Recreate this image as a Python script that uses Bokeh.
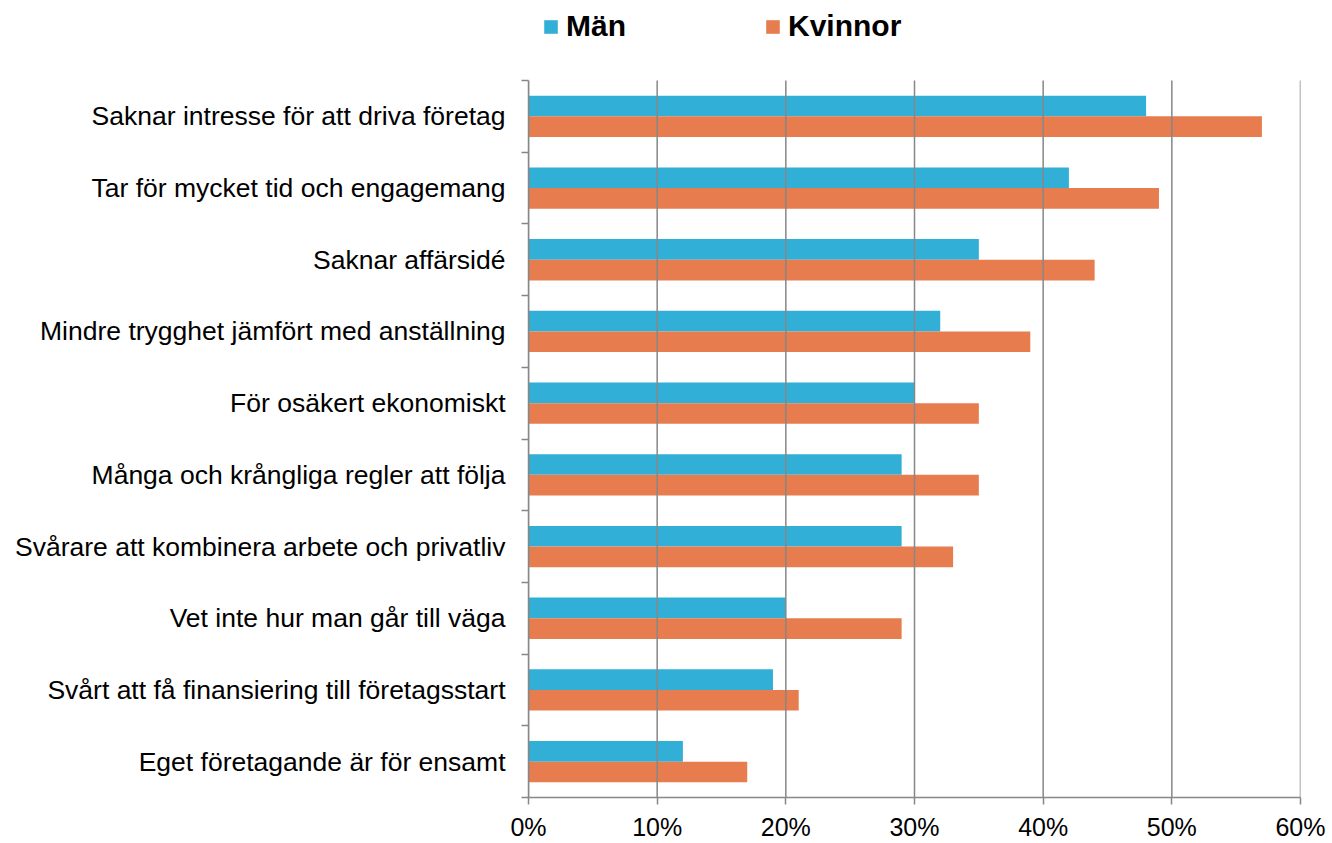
from bokeh.plotting import figure
from bokeh.models import ColumnDataSource, Range1d, FixedTicker, PrintfTickFormatter, Legend, LegendItem
from bokeh.embed import file_html
from bokeh.resources import INLINE

categories = [
    "Saknar intresse för att driva företag",
    "Tar för mycket tid och engagemang",
    "Saknar affärsidé",
    "Mindre trygghet jämfört med anställning",
    "För osäkert ekonomiskt",
    "Många och krångliga regler att följa",
    "Svårare att kombinera arbete och privatliv",
    "Vet inte hur man går till väga",
    "Svårt att få finansiering till företagsstart",
    "Eget företagande är för ensamt",
]
man = [48, 42, 35, 32, 30, 29, 29, 20, 19, 12]
kvinnor = [57, 49, 44, 39, 35, 35, 33, 29, 21, 17]
x_ticks = [0, 10, 20, 30, 40, 50, 60]

BLUE = "#31AFD6"
ORANGE = "#E77C4F"
GRAY = "#878787"
FONT = "Liberation Sans"

# layout (pixels)
W, H = 1328, 843
LEFT, RIGHT_EDGE = 528, 1300
PLOT_TOP, PLOT_BOTTOM = 80, 797
FRAME_TOP = 0

n = len(categories)
pos = [n - 1 - i + 0.5 for i in range(n)]
bar_h = 0.288
off = bar_h / 2
y_top = n * (PLOT_BOTTOM - FRAME_TOP) / (PLOT_BOTTOM - PLOT_TOP)

src = ColumnDataSource(dict(
    cat=categories,
    man=man,
    kvinnor=kvinnor,
    y_m=[p_ + off for p_ in pos],
    y_k=[p_ - off for p_ in pos],
))
grid_src = ColumnDataSource(dict(x=x_ticks, y0=[0] * len(x_ticks), y1=[n] * len(x_ticks)))

p = figure(width=W, height=H, output_backend="svg", toolbar_location=None,
           x_range=Range1d(0, 60), y_range=Range1d(0, y_top),
           min_border_left=LEFT, min_border_right=W - RIGHT_EDGE,
           min_border_top=FRAME_TOP, min_border_bottom=H - PLOT_BOTTOM)
p.title.text = ""
p.outline_line_color = None

r_m = p.hbar(y="y_m", right="man", left=0, height=bar_h, source=src, fill_color=BLUE, line_color=None)
r_k = p.hbar(y="y_k", right="kvinnor", left=0, height=bar_h, source=src, fill_color=ORANGE, line_color=None)
# vertical gridlines drawn over the bars, limited to the category area
p.segment(x0="x", y0="y0", x1="x", y1="y1", source=grid_src, line_color=GRAY, line_width=1.5)

# x axis
p.xaxis.ticker = FixedTicker(ticks=x_ticks)
p.xaxis.formatter = PrintfTickFormatter(format="%d%%")
p.xaxis.axis_line_color = GRAY
p.xaxis.axis_line_width = 1.5
p.xaxis.major_tick_line_color = GRAY
p.xaxis.major_tick_line_width = 1.5
p.xaxis.major_tick_out = 7
p.xaxis.major_tick_in = 0
p.xaxis.minor_tick_line_color = None
p.xaxis.major_label_text_font = FONT
p.xaxis.major_label_text_font_size = "25px"
p.xaxis.major_label_text_color = "black"
p.xaxis.major_label_standoff = 8

# y axis: labels at category centres, ticks at boundaries
p.yaxis.ticker = FixedTicker(ticks=pos, minor_ticks=list(range(n + 1)))
p.yaxis.bounds = (0, n)
p.yaxis.major_label_overrides = {pv: c for pv, c in zip(pos, categories)}
p.yaxis.axis_line_color = GRAY
p.yaxis.axis_line_width = 1.5
p.yaxis.major_tick_line_color = None
p.yaxis.major_tick_out = 0
p.yaxis.major_tick_in = 0
p.yaxis.minor_tick_line_color = GRAY
p.yaxis.minor_tick_line_width = 1.5
p.yaxis.minor_tick_out = 7
p.yaxis.minor_tick_in = 0
p.yaxis.major_label_text_font = FONT
p.yaxis.major_label_text_font_size = "26.5px"
p.yaxis.major_label_text_color = "black"
p.yaxis.major_label_standoff = 16

p.xgrid.visible = False
p.ygrid.visible = False

legend = Legend(items=[LegendItem(label="Män", renderers=[r_m]),
                       LegendItem(label="Kvinnor", renderers=[r_k])],
                orientation="horizontal", location=(14, PLOT_BOTTOM - 43))
legend.label_text_font = FONT
legend.label_text_font_size = "30px"
legend.label_text_font_style = "bold"
legend.label_text_color = "black"
legend.glyph_width = 17
legend.glyph_height = 17
legend.label_standoff = 7
legend.label_width = 198
legend.spacing = 0
legend.padding = 0
legend.margin = 0
legend.border_line_color = None
legend.background_fill_alpha = 0
p.add_layout(legend, "center")

open("out.html", "w").write(file_html(p, INLINE))
